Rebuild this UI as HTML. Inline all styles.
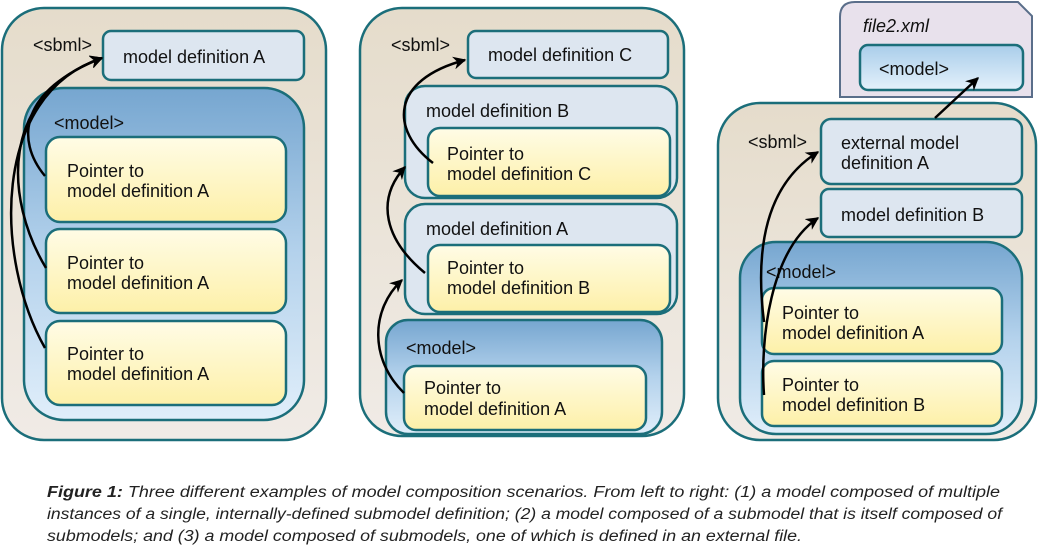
<!DOCTYPE html>
<html><head><meta charset="utf-8"><style>
html,body{margin:0;padding:0;background:#fff;}
svg{display:block;}
text{font-family:"Liberation Sans",Arial,sans-serif;}
</style></head><body>
<svg width="1044" height="546" viewBox="0 0 1044 546" xmlns="http://www.w3.org/2000/svg">
<defs>
<linearGradient id="beige" x1="0" y1="0" x2="0" y2="1"><stop offset="0" stop-color="#e5dccb"/><stop offset="1" stop-color="#f0ebe6"/></linearGradient>
<linearGradient id="blue" x1="0" y1="0" x2="0" y2="1"><stop offset="0" stop-color="#76a6d0"/><stop offset="0.5" stop-color="#b4d2ec"/><stop offset="1" stop-color="#e0eefa"/></linearGradient>
<linearGradient id="yel" x1="0" y1="0" x2="0" y2="1"><stop offset="0" stop-color="#fffce6"/><stop offset="1" stop-color="#fdf0a8"/></linearGradient>
<linearGradient id="lblue" x1="0" y1="0" x2="0" y2="1"><stop offset="0" stop-color="#a9cdea"/><stop offset="1" stop-color="#e4f1fb"/></linearGradient>
<marker id="ah" viewBox="0 0 10 10" refX="9" refY="5" markerWidth="13" markerHeight="13" markerUnits="userSpaceOnUse" orient="auto"><path d="M0,0 L10,5 L0,10 L3,5 z" fill="#000"/></marker>
</defs>
<g stroke="#1b6e7a" stroke-width="2.5">
<rect x="2" y="8" width="324" height="432" rx="42" fill="url(#beige)"/>
<rect x="103" y="31" width="201" height="49" rx="8" fill="#dde6f0"/>
<rect x="24" y="88" width="280" height="332" rx="40" fill="url(#blue)"/>
<rect x="46" y="137" width="240" height="85" rx="14" fill="url(#yel)"/>
<rect x="46" y="229" width="240" height="84" rx="14" fill="url(#yel)"/>
<rect x="46" y="321" width="240" height="84" rx="14" fill="url(#yel)"/>
<rect x="360" y="8" width="324" height="428" rx="42" fill="url(#beige)"/>
<rect x="468" y="31" width="200" height="47" rx="8" fill="#dde6f0"/>
<rect x="405" y="86" width="272" height="112" rx="20" fill="#dde6f0"/>
<rect x="428" y="128" width="242" height="68" rx="12" fill="url(#yel)"/>
<rect x="405" y="204" width="272" height="110" rx="20" fill="#dde6f0"/>
<rect x="428" y="245" width="242" height="67" rx="12" fill="url(#yel)"/>
<rect x="386" y="320" width="276" height="114" rx="22" fill="url(#blue)"/>
<rect x="404" y="366" width="242" height="64" rx="12" fill="url(#yel)"/>
<path d="M855,2 L1018,2 L1032,16 L1032,97 L840,97 L840,17 Q840,2 855,2 Z" fill="#e8e1ec" stroke="#5a6e8a" stroke-width="2"/>
<rect x="860" y="45" width="163" height="45" rx="8" fill="url(#lblue)"/>
<rect x="718" y="103" width="318" height="337" rx="42" fill="url(#beige)"/>
<rect x="821" y="119" width="201" height="65" rx="10" fill="#dde6f0"/>
<rect x="821" y="189" width="201" height="48" rx="8" fill="#dde6f0"/>
<rect x="740" y="242" width="282" height="192" rx="36" fill="url(#blue)"/>
<rect x="762" y="288" width="240" height="66" rx="12" fill="url(#yel)"/>
<rect x="762" y="361" width="240" height="65" rx="12" fill="url(#yel)"/>
</g>
<g font-size="18" fill="#111">
<text x="33" y="51">&lt;sbml&gt;</text>
<text x="123" y="63">model definition A</text>
<text x="54" y="129">&lt;model&gt;</text>
<text x="67" y="177">Pointer to</text><text x="67" y="197">model definition A</text>
<text x="67" y="269">Pointer to</text><text x="67" y="289">model definition A</text>
<text x="67" y="360">Pointer to</text><text x="67" y="380">model definition A</text>

<text x="391" y="51">&lt;sbml&gt;</text>
<text x="488" y="61">model definition C</text>
<text x="426" y="117">model definition B</text>
<text x="447" y="160">Pointer to</text><text x="447" y="180">model definition C</text>
<text x="426" y="235">model definition A</text>
<text x="447" y="274">Pointer to</text><text x="447" y="294">model definition B</text>
<text x="406" y="354">&lt;model&gt;</text>
<text x="424" y="394">Pointer to</text><text x="424" y="415">model definition A</text>

<text x="863" y="32" font-style="italic">file2.xml</text>
<text x="879" y="75">&lt;model&gt;</text>
<text x="748" y="148">&lt;sbml&gt;</text>
<text x="841" y="149">external model</text><text x="841" y="169">definition A</text>
<text x="841" y="221">model definition B</text>
<text x="766" y="278">&lt;model&gt;</text>
<text x="782" y="319">Pointer to</text><text x="782" y="339">model definition A</text>
<text x="782" y="391">Pointer to</text><text x="782" y="411">model definition B</text>
</g>
<g fill="none" stroke="#000" stroke-width="2.5" marker-end="url(#ah)">
<path d="M45,176 C15,140 20,90 102,58"/>
<path d="M46,268 C5,200 -2,95 102,58"/>
<path d="M45,348 C-5,260 -10,95 102,58"/>
<path d="M404,393 C370,360 370,310 402,280"/>
<path d="M425,273 C385,240 375,200 405,167"/>
<path d="M433,163 C390,130 390,80 465,60"/>
<path d="M764,322 C755,250 765,185 818,152"/>
<path d="M764,395 C760,340 770,250 818,218"/>
<path d="M935,118 L978,78"/>
</g>
<g font-size="15.5" font-style="italic" fill="#222">
<text x="47" y="497" textLength="953" lengthAdjust="spacingAndGlyphs"><tspan font-weight="bold">Figure 1:</tspan> Three different examples of model composition scenarios. From left to right: (1) a model composed of multiple</text>
<text x="47" y="519" textLength="955" lengthAdjust="spacingAndGlyphs">instances of a single, internally-defined submodel definition; (2) a model composed of a submodel that is itself composed of</text>
<text x="47" y="541" textLength="755" lengthAdjust="spacingAndGlyphs">submodels; and (3) a model composed of submodels, one of which is defined in an external file.</text>
</g>
</svg>
</body></html>
